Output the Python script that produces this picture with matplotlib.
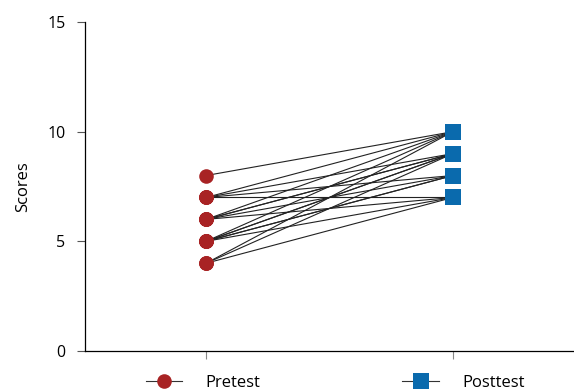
import numpy as np
import matplotlib.pyplot as plt
from matplotlib.lines import Line2D

plt.rcParams['font.family'] = ['Open Sans', 'DejaVu Sans']

# paired scores (pretest -> posttest)
pretest = [8, 7, 7, 7, 7, 6, 6, 6, 6, 6, 5, 5, 5, 5, 5, 5, 4, 4, 4]
posttest = [10, 10, 9, 8, 7, 10, 9, 9, 8, 7, 10, 9, 9, 8, 8, 7, 10, 9, 7]
groups = ['Pretest', 'Posttest']
yticks = [0, 5, 10, 15]

RED = '#a82324'
BLUE = '#0a6aad'

fig = plt.figure(figsize=(5.74, 3.9), dpi=100)
ax = fig.add_axes([85 / 574, 1 - 351 / 390, 489 / 574, 329 / 390])

for a, b in zip(pretest, posttest):
    ax.plot([0, 1], [a, b], color='#222222', lw=0.8, zorder=1)

ax.scatter(np.zeros(len(pretest)), pretest, s=110, marker='o', color=RED, zorder=3, linewidths=0)
ax.scatter(np.ones(len(posttest)), posttest, s=125, marker='s', color=BLUE, zorder=3, linewidths=0)

ax.set_xlim(-0.49, 1.49)
ax.set_ylim(0, 15)
ax.set_yticks(yticks)
ax.set_xticks([0, 1])
ax.set_xticklabels([])
ax.tick_params(axis='y', length=6, width=0.8, labelsize=11.5, pad=8, color='#555555')
ax.tick_params(axis='x', length=6, width=0.8, color='#888888')
ax.spines['top'].set_visible(False)
ax.spines['right'].set_visible(False)
ax.spines['left'].set_linewidth(0.9)
ax.spines['bottom'].set_linewidth(0.9)
ax.set_ylabel('Scores', fontsize=12, labelpad=12)

handles = [
    Line2D([], [], color='#333333', lw=0.8, marker='o', markersize=10.5, markerfacecolor=RED, markeredgewidth=0),
    Line2D([], [], color='#333333', lw=0.8, marker='s', markersize=11, markerfacecolor=BLUE, markeredgewidth=0),
]
fig.legend(handles, groups, loc='center', bbox_to_anchor=(0.584, 0.018), ncol=2, frameon=False,
           fontsize=12, handlelength=2.2, handletextpad=1.4, columnspacing=8.5)

fig.savefig('out.png', dpi=100)
